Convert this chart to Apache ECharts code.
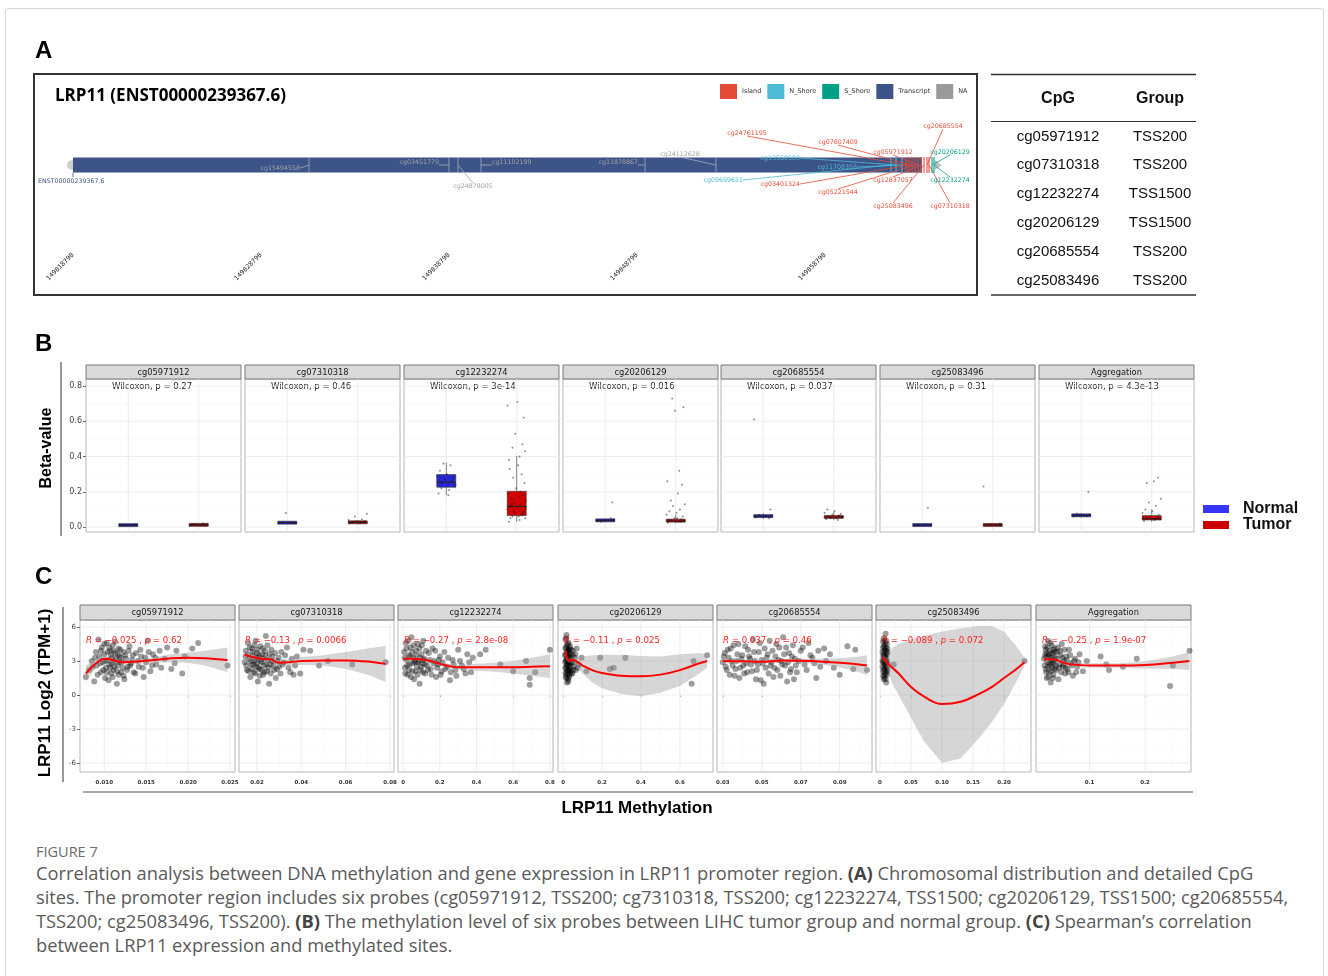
<!DOCTYPE html>
<html>
<head>
<meta charset="utf-8">
<title>LRP11 methylation</title>
<script src="https://cdn.jsdelivr.net/npm/echarts@6.0.0/dist/echarts.min.js"></script>
<style>
  html, body { margin: 0; padding: 0; background: #fff; }
  #frame { position: absolute; left: 5px; top: 8px; width: 1317px; height: 990px; border: 1px solid #d8d8d8; border-radius: 3px; }
  #chart { position: absolute; left: 0; top: 0; width: 1328px; height: 830px; }
  #caption { position: absolute; left: 36px; top: 843px; font-family: 'Open Sans', 'Noto Sans', sans-serif; color: #5a5a5a; white-space: nowrap; }
  #caption .fig { font-size: 14.5px; line-height: 18px; color: #6b6b6b; }
  #caption .txt { font-size: 18.3px; line-height: 24px; }
  #caption b { color: #444; }
</style>
</head>
<body>
<div id="frame"></div>
<div id="chart"></div>
<div id="caption">
  <div class="fig">FIGURE 7</div>
  <div class="txt">Correlation analysis between DNA methylation and gene expression in LRP11 promoter region. <b>(A)</b> Chromosomal distribution and detailed CpG<br>sites. The promoter region includes six probes (cg05971912, TSS200; cg7310318, TSS200; cg12232274, TSS1500; cg20206129, TSS1500; cg20685554,<br>TSS200; cg25083496, TSS200). <b>(B)</b> The methylation level of six probes between LIHC tumor group and normal group. <b>(C)</b> Spearman’s correlation<br>between LRP11 expression and methylated sites.</div>
</div>
<script>
// ---------- panel A : probe map ----------
const geneTitle = 'LRP11 (ENST00000239367.6)'
const transcriptId = 'ENST00000239367.6'
const transcript = [149818798, 149863958, 149864800] // start, end, TSS marker
const coordTicks = [149818798, 149828798, 149838798, 149848798, 149858798]
const regionNames = ['Island', 'N_Shore', 'S_Shore', 'Transcript', 'NA']
const probeNames = ['cg15494558', 'cg03451779', 'cg24878005', 'cg11102199', 'cg11878867', 'cg24112628',
  'cg09699651', 'cg13560583', 'cg11708358', 'cg24761195', 'cg03401324', 'cg07807409', 'cg05221544',
  'cg05971912', 'cg12837057', 'cg25083496', 'cg20685554', 'cg07310318', 'cg20206129', 'cg12232274']
const probePos = [149831351, 149838798, 149839277, 149840500, 149849224, 149852999,
  149862309, 149862574, 149862894, 149863107, 149863266, 149863426, 149863585,
  149863745, 149863904, 149864064, 149864223, 149864330, 149864489, 149864596]
const probeRegion = ['NA', 'NA', 'NA', 'NA', 'NA', 'NA',
  'N_Shore', 'N_Shore', 'N_Shore', 'Island', 'Island', 'Island', 'Island',
  'Island', 'Island', 'Island', 'Island', 'Island', 'S_Shore', 'S_Shore']
const tableCpG = ['cg05971912', 'cg07310318', 'cg12232274', 'cg20206129', 'cg20685554', 'cg25083496']
const tableGroup = ['TSS200', 'TSS200', 'TSS1500', 'TSS1500', 'TSS200', 'TSS200']

// ---------- panel B : beta values ----------
const facetNames = ['cg05971912', 'cg07310318', 'cg12232274', 'cg20206129', 'cg20685554', 'cg25083496', 'Aggregation']
const wilcoxP = ['0.27', '0.46', '3e-14', '0.016', '0.037', '0.31', '4.3e-13']
const betaTicks = [0, 0.2, 0.4, 0.6, 0.8]
// [min, q1, median, q3, max]
const normalBox = [
  [0.008, 0.010, 0.011, 0.012, 0.014],
  [0.020, 0.023, 0.025, 0.027, 0.030],
  [0.180, 0.226, 0.255, 0.298, 0.366],
  [0.028, 0.034, 0.038, 0.042, 0.050],
  [0.045, 0.056, 0.062, 0.068, 0.080],
  [0.008, 0.010, 0.011, 0.013, 0.016],
  [0.055, 0.062, 0.066, 0.071, 0.080]
]
const tumorBox = [
  [0.008, 0.011, 0.012, 0.014, 0.018],
  [0.018, 0.024, 0.027, 0.030, 0.038],
  [0.030, 0.065, 0.117, 0.203, 0.404],
  [0.020, 0.028, 0.034, 0.045, 0.070],
  [0.040, 0.050, 0.057, 0.065, 0.085],
  [0.008, 0.010, 0.012, 0.014, 0.018],
  [0.030, 0.040, 0.048, 0.065, 0.100]
]
const normalBeta = [
  [0.010, 0.011, 0.012, 0.009, 0.013, 0.011],
  [0.024, 0.026, 0.022, 0.028, 0.025, 0.080],
  [0.19, 0.21, 0.23, 0.25, 0.26, 0.27, 0.28, 0.29, 0.30, 0.32, 0.35, 0.36, 0.24, 0.22, 0.18],
  [0.035, 0.040, 0.045, 0.030, 0.050, 0.038, 0.140],
  [0.055, 0.060, 0.065, 0.070, 0.050, 0.060, 0.100, 0.610],
  [0.010, 0.012, 0.014, 0.011, 0.110],
  [0.060, 0.065, 0.070, 0.075, 0.062, 0.068, 0.200]
]
const tumorBeta = [
  [0.010, 0.012, 0.014, 0.015, 0.011, 0.013, 0.016, 0.009, 0.012, 0.018, 0.020, 0.014],
  [0.022, 0.025, 0.028, 0.030, 0.026, 0.033, 0.035, 0.040, 0.024, 0.027, 0.045, 0.060, 0.075, 0.029, 0.031],
  [0.03, 0.04, 0.05, 0.06, 0.07, 0.08, 0.09, 0.10, 0.11, 0.12, 0.13, 0.14, 0.15, 0.16, 0.17, 0.18, 0.19, 0.20,
   0.22, 0.25, 0.28, 0.30, 0.33, 0.35, 0.38, 0.40, 0.43, 0.45, 0.47, 0.53, 0.62, 0.69, 0.71, 0.05, 0.07, 0.09,
   0.11, 0.13, 0.06, 0.08],
  [0.025, 0.030, 0.035, 0.040, 0.045, 0.050, 0.060, 0.070, 0.080, 0.090, 0.100, 0.120, 0.130, 0.150, 0.190,
   0.240, 0.260, 0.320, 0.660, 0.680, 0.730, 0.030, 0.040, 0.050],
  [0.045, 0.050, 0.055, 0.060, 0.065, 0.070, 0.075, 0.080, 0.090, 0.100, 0.040, 0.050, 0.060],
  [0.010, 0.012, 0.014, 0.016, 0.011, 0.013, 0.020, 0.230],
  [0.035, 0.040, 0.045, 0.050, 0.055, 0.060, 0.070, 0.080, 0.090, 0.100, 0.120, 0.140, 0.160, 0.250, 0.260,
   0.280, 0.050, 0.045]
]

// ---------- panel C : expression vs methylation ----------
const corrR = ['−0.025', '−0.13', '−0.27', '−0.11', '0.037', '−0.089', '−0.25']
const corrP = ['0.62', '0.0066', '2.8e-08', '0.025', '0.46', '0.072', '1.9e-07']
const exprTicks = [-6, -3, 0, 3, 6]
const methTicks = [
  [0.010, 0.015, 0.020, 0.025],
  [0.02, 0.04, 0.06, 0.08],
  [0, 0.2, 0.4, 0.6, 0.8],
  [0, 0.2, 0.4, 0.6],
  [0.03, 0.05, 0.07, 0.09],
  [0, 0.05, 0.10, 0.15, 0.20],
  [0.1, 0.2]
]
const methTickLabels = [
  ['0.010', '0.015', '0.020', '0.025'],
  ['0.02', '0.04', '0.06', '0.08'],
  ['0', '0.2', '0.4', '0.6', '0.8'],
  ['0', '0.2', '0.4', '0.6'],
  ['0.03', '0.05', '0.07', '0.09'],
  ['0', '0.05', '0.10', '0.15', '0.20'],
  ['0.1', '0.2']
]
const methPoints = [
  [[0.0078, 1.6], [0.0082, 2.2], [0.0085, 3.0], [0.0088, 1.2], [0.0090, 3.8], [0.0091, 2.6], [0.0093, 4.9],
   [0.0094, 3.4], [0.0096, 2.0], [0.0097, 4.2], [0.0098, 2.9], [0.0100, 3.6], [0.0101, 1.5], [0.0102, 2.4],
   [0.0103, 4.6], [0.0104, 3.1], [0.0106, 2.7], [0.0107, 3.9], [0.0108, 1.9], [0.0109, 3.3], [0.0110, 4.4],
   [0.0111, 2.2], [0.0112, 3.0], [0.0113, 3.7], [0.0115, 1.0], [0.0116, 2.6], [0.0117, 4.1], [0.0118, 3.4],
   [0.0120, 2.0], [0.0121, 2.9], [0.0123, 3.8], [0.0124, 1.4], [0.0126, 3.2], [0.0128, 2.5], [0.0130, 4.3],
   [0.0132, 2.8], [0.0134, 3.5], [0.0137, 1.9], [0.0140, 3.0], [0.0143, 4.0], [0.0146, 2.4], [0.0149, 3.3],
   [0.0152, 4.8], [0.0155, 2.1], [0.0158, 3.6], [0.0162, 2.7], [0.0166, 3.9], [0.0172, 3.2], [0.0180, 2.3],
   [0.0186, 3.9], [0.0193, 1.9], [0.0196, 3.4], [0.0205, 4.1], [0.0212, 4.6], [0.0247, 2.6],
   [0.0086, 2.5], [0.0089, 3.3], [0.0092, 1.8], [0.0095, 2.8], [0.0096, 3.9], [0.0099, 2.2], [0.0100, 4.5],
   [0.0101, 3.0], [0.0103, 2.0], [0.0104, 3.8], [0.0105, 1.3], [0.0106, 4.2], [0.0107, 2.4], [0.0108, 3.5],
   [0.0109, 2.8], [0.0110, 1.6], [0.0111, 3.9], [0.0112, 2.5], [0.0113, 4.7], [0.0114, 3.2], [0.0115, 2.1],
   [0.0116, 3.6], [0.0117, 1.8], [0.0118, 2.9], [0.0119, 4.0], [0.0120, 3.3], [0.0122, 2.4], [0.0123, 1.7],
   [0.0125, 3.5], [0.0127, 2.2], [0.0129, 3.9], [0.0131, 2.6], [0.0133, 3.1], [0.0135, 2.0], [0.0138, 3.7],
   [0.0141, 2.5], [0.0144, 3.4], [0.0147, 1.6], [0.0150, 2.9], [0.0153, 3.8], [0.0157, 2.6], [0.0161, 3.3],
   [0.0168, 2.4], [0.0175, 4.2], [0.0184, 2.8]],
  [[0.0145, 2.9], [0.0150, 3.9], [0.0155, 2.2], [0.0160, 4.6], [0.0165, 3.2], [0.0170, 1.6], [0.0175, 2.7],
   [0.0178, 4.1], [0.0182, 3.5], [0.0186, 2.0], [0.0190, 3.0], [0.0194, 4.8], [0.0198, 2.5], [0.0200, 3.7],
   [0.0204, 1.2], [0.0208, 3.3], [0.0212, 2.3], [0.0215, 4.3], [0.0220, 2.9], [0.0224, 3.6], [0.0228, 1.8],
   [0.0232, 2.6], [0.0236, 3.9], [0.0240, 5.2], [0.0245, 2.1], [0.0250, 3.1], [0.0255, 1.0], [0.0260, 2.7],
   [0.0265, 4.0], [0.0270, 3.4], [0.0278, 2.2], [0.0285, 1.5], [0.0292, 3.0], [0.0300, 2.5], [0.0310, 3.8],
   [0.0320, 2.9], [0.0335, 4.2], [0.0350, 2.0], [0.0365, 1.8], [0.0380, 3.4], [0.0410, 4.0], [0.0440, 3.9],
   [0.0480, 2.6], [0.0520, 3.0], [0.0630, 2.7], [0.0780, 2.9],
   [0.0148, 3.4], [0.0152, 2.6], [0.0158, 3.6], [0.0162, 2.1], [0.0167, 4.2], [0.0172, 3.0], [0.0176, 2.3],
   [0.0180, 3.8], [0.0184, 2.7], [0.0188, 4.4], [0.0192, 1.9], [0.0196, 3.3], [0.0199, 2.8], [0.0202, 4.0],
   [0.0206, 2.4], [0.0210, 3.5], [0.0213, 1.7], [0.0217, 3.0], [0.0221, 2.2], [0.0226, 4.1], [0.0230, 3.2],
   [0.0234, 2.0], [0.0238, 3.5], [0.0242, 2.7], [0.0247, 4.4], [0.0252, 2.4], [0.0257, 3.6], [0.0262, 1.9],
   [0.0268, 3.0], [0.0274, 2.6], [0.0282, 3.7], [0.0290, 2.3], [0.0298, 3.3], [0.0306, 1.9], [0.0315, 2.7],
   [0.0327, 3.5], [0.0342, 2.4], [0.0357, 3.2], [0.0372, 2.6], [0.0395, 1.9]],
  [[0.005, 3.8], [0.010, 2.4], [0.015, 4.6], [0.020, 3.1], [0.025, 1.8], [0.030, 3.5], [0.035, 2.7],
   [0.040, 4.2], [0.045, 5.1], [0.050, 2.1], [0.055, 3.3], [0.060, 1.4], [0.065, 2.9], [0.070, 3.9],
   [0.075, 2.5], [0.080, 4.5], [0.085, 3.0], [0.090, 1.0], [0.095, 2.2], [0.100, 3.6], [0.105, 2.8],
   [0.110, 4.8], [0.115, 3.2], [0.120, 1.9], [0.130, 2.6], [0.140, 3.7], [0.150, 2.3], [0.160, 4.1],
   [0.170, 3.0], [0.180, 1.6], [0.190, 2.7], [0.200, 3.4], [0.210, 2.1], [0.225, 3.8], [0.240, 2.5],
   [0.255, 1.3], [0.270, 3.1], [0.285, 2.2], [0.300, 4.0], [0.320, 2.6], [0.340, 1.9], [0.360, 2.9],
   [0.380, 3.3], [0.420, 3.6], [0.450, 4.0], [0.530, 2.7], [0.600, 2.1], [0.670, 3.0], [0.690, 1.5],
   [0.690, 0.9], [0.720, 2.0], [0.800, 4.0],
   [0.008, 3.3], [0.012, 1.9], [0.018, 4.1], [0.022, 2.6], [0.028, 4.8], [0.033, 2.2], [0.038, 3.4],
   [0.043, 1.6], [0.048, 3.8], [0.052, 2.8], [0.058, 4.4], [0.062, 3.0], [0.068, 2.1], [0.072, 3.5],
   [0.078, 1.8], [0.082, 2.9], [0.088, 4.1], [0.092, 3.3], [0.098, 2.5], [0.102, 4.4], [0.108, 2.0],
   [0.112, 3.1], [0.118, 2.7], [0.125, 3.9], [0.135, 2.2], [0.145, 3.1], [0.155, 1.8], [0.165, 2.8],
   [0.175, 3.9], [0.185, 2.4], [0.195, 3.1], [0.205, 1.8], [0.215, 2.9], [0.230, 2.3], [0.245, 3.3],
   [0.260, 2.0], [0.275, 2.7], [0.290, 1.7], [0.310, 3.0], [0.330, 2.3], [0.350, 3.6], [0.370, 2.0]],
  [[0.010, 3.5], [0.012, 2.4], [0.013, 4.9], [0.014, 1.6], [0.015, 3.0], [0.016, 4.2], [0.017, 2.0],
   [0.018, 5.3], [0.019, 3.3], [0.020, 1.1], [0.021, 2.7], [0.022, 3.9], [0.023, 2.2], [0.024, 4.5],
   [0.025, 3.1], [0.026, 1.4], [0.027, 2.6], [0.028, 3.7], [0.029, 2.9], [0.030, 4.0], [0.031, 1.8],
   [0.032, 3.4], [0.033, 2.3], [0.035, 3.0], [0.036, 4.3], [0.038, 2.1], [0.040, 3.6], [0.042, 2.8],
   [0.045, 3.2], [0.048, 1.9], [0.050, 3.9], [0.055, 2.5], [0.060, 3.3], [0.065, 2.2], [0.070, 4.1],
   [0.080, 2.7], [0.095, 3.3], [0.120, 2.1], [0.190, 3.3], [0.240, 2.3], [0.260, 2.4], [0.320, 3.3],
   [0.660, 1.0], [0.670, 3.0], [0.740, 3.5],
   [0.011, 2.9], [0.012, 4.1], [0.013, 1.9], [0.014, 3.6], [0.015, 2.4], [0.016, 5.0], [0.017, 3.1],
   [0.018, 1.5], [0.019, 4.4], [0.020, 2.6], [0.021, 3.8], [0.022, 1.8], [0.023, 3.3], [0.024, 2.1],
   [0.025, 4.0], [0.026, 2.9], [0.027, 1.2], [0.028, 3.1], [0.029, 4.6], [0.030, 2.3], [0.031, 3.5],
   [0.032, 1.6], [0.033, 2.8], [0.034, 4.1], [0.035, 2.0], [0.037, 3.3], [0.039, 2.5], [0.041, 4.0],
   [0.043, 1.9], [0.046, 2.9], [0.049, 3.5], [0.052, 2.2], [0.058, 2.9], [0.063, 3.6], [0.075, 2.4]],
  [[0.030, 2.9], [0.031, 3.7], [0.032, 2.2], [0.033, 3.3], [0.034, 4.1], [0.035, 2.6], [0.036, 1.7],
   [0.037, 3.0], [0.038, 4.5], [0.039, 2.4], [0.040, 3.5], [0.041, 1.9], [0.042, 2.8], [0.043, 4.0],
   [0.044, 3.2], [0.045, 2.1], [0.046, 3.8], [0.047, 1.4], [0.048, 2.7], [0.049, 4.6], [0.050, 3.1],
   [0.051, 1.0], [0.052, 2.4], [0.053, 3.6], [0.054, 4.8], [0.055, 2.9], [0.056, 1.6], [0.057, 3.4],
   [0.058, 2.2], [0.059, 4.2], [0.060, 3.0], [0.061, 5.1], [0.062, 2.6], [0.063, 1.2], [0.064, 3.7],
   [0.065, 2.3], [0.066, 4.4], [0.067, 3.2], [0.068, 2.0], [0.070, 3.9], [0.072, 2.7], [0.074, 4.6],
   [0.076, 3.3], [0.078, 1.5], [0.080, 2.5], [0.082, 4.1], [0.085, 3.6], [0.087, 2.4], [0.090, 1.8],
   [0.094, 4.3], [0.097, 2.3], [0.098, 4.0], [0.104, 2.2],
   [0.0305, 3.4], [0.0315, 2.5], [0.0325, 4.0], [0.0335, 1.8], [0.0345, 3.0], [0.0355, 4.4], [0.0365, 2.3],
   [0.0375, 3.6], [0.0385, 1.5], [0.0395, 3.2], [0.0405, 2.6], [0.0415, 4.3], [0.0425, 2.0], [0.0435, 3.4],
   [0.0445, 2.7], [0.0455, 4.9], [0.0465, 3.0], [0.0475, 2.2], [0.0485, 3.8], [0.0495, 1.3], [0.0505, 2.8],
   [0.0515, 4.1], [0.0525, 3.3], [0.0535, 1.9], [0.0545, 2.6], [0.0555, 3.9], [0.0565, 2.4], [0.0575, 4.5],
   [0.0585, 3.1], [0.0595, 1.7], [0.0605, 2.7], [0.0615, 3.6], [0.0625, 4.2], [0.0635, 2.9], [0.0645, 2.0],
   [0.0655, 3.4], [0.0665, 1.4], [0.0675, 2.6], [0.0690, 3.0], [0.0710, 4.2], [0.0730, 2.2], [0.0750, 3.5],
   [0.0770, 2.8], [0.0790, 3.9], [0.0830, 3.0]],
  [[0.004, 3.0], [0.005, 4.2], [0.005, 2.1], [0.006, 3.6], [0.006, 1.4], [0.007, 4.8], [0.007, 2.7],
   [0.008, 3.3], [0.008, 1.8], [0.009, 5.4], [0.009, 2.4], [0.010, 3.9], [0.010, 1.1], [0.011, 3.0],
   [0.011, 4.5], [0.012, 2.2], [0.006, 5.0], [0.008, 4.0], [0.010, 2.8], [0.007, 1.6], [0.009, 3.5],
   [0.011, 2.5], [0.005, 3.4], [0.012, 3.8], [0.022, 2.7], [0.233, 3.0],
   [0.004, 2.5], [0.004, 3.8], [0.005, 2.9], [0.005, 4.7], [0.006, 2.3], [0.006, 3.1], [0.007, 3.9],
   [0.007, 2.0], [0.008, 2.6], [0.008, 4.5], [0.009, 1.4], [0.009, 3.0], [0.009, 4.2], [0.010, 2.2],
   [0.010, 3.3], [0.011, 1.8], [0.011, 3.6], [0.012, 2.8], [0.012, 4.1], [0.006, 4.3], [0.007, 3.4],
   [0.008, 2.9], [0.010, 4.8], [0.011, 2.0], [0.005, 1.7]],
  [[0.018, 3.2], [0.020, 4.3], [0.021, 2.3], [0.022, 3.7], [0.023, 1.5], [0.024, 2.9], [0.025, 4.8],
   [0.026, 3.4], [0.027, 2.0], [0.028, 3.9], [0.029, 2.6], [0.030, 1.1], [0.031, 3.1], [0.032, 4.4],
   [0.033, 2.4], [0.034, 3.6], [0.035, 1.8], [0.036, 2.8], [0.037, 4.1], [0.038, 3.3], [0.040, 2.2],
   [0.042, 3.8], [0.044, 1.4], [0.046, 2.7], [0.048, 3.5], [0.050, 4.5], [0.052, 2.5], [0.054, 3.0],
   [0.056, 1.9], [0.058, 3.4], [0.060, 2.3], [0.063, 4.0], [0.066, 2.8], [0.070, 1.7], [0.074, 3.2],
   [0.078, 2.5], [0.082, 3.6], [0.088, 2.1], [0.095, 3.0], [0.120, 3.4], [0.130, 2.7], [0.135, 2.2],
   [0.160, 2.5], [0.185, 3.2], [0.245, 0.8], [0.250, 2.6], [0.280, 3.9],
   [0.019, 2.6], [0.020, 3.5], [0.021, 4.0], [0.022, 2.0], [0.023, 3.4], [0.024, 4.2], [0.025, 2.5],
   [0.026, 1.6], [0.027, 3.6], [0.028, 2.8], [0.029, 4.6], [0.030, 3.3], [0.031, 2.1], [0.032, 3.7],
   [0.033, 2.9], [0.034, 1.5], [0.035, 4.0], [0.036, 3.1], [0.037, 2.3], [0.038, 3.8], [0.039, 2.6],
   [0.041, 3.2], [0.043, 4.2], [0.045, 2.4], [0.047, 3.9], [0.049, 2.0], [0.051, 3.3], [0.053, 2.7],
   [0.055, 4.0], [0.057, 2.4], [0.059, 3.1], [0.062, 2.0], [0.065, 3.5], [0.068, 2.6], [0.072, 3.0],
   [0.076, 2.0], [0.080, 2.9]]
]
// loess fit with confidence band
const fitX = [
  [0.0078, 0.0090, 0.0100, 0.0110, 0.0120, 0.0140, 0.0160, 0.0180, 0.0200, 0.0220, 0.0247],
  [0.0145, 0.018, 0.022, 0.026, 0.03, 0.035, 0.04, 0.05, 0.06, 0.07, 0.078],
  [0, 0.05, 0.1, 0.15, 0.2, 0.25, 0.3, 0.4, 0.5, 0.6, 0.7, 0.8],
  [0.012, 0.02, 0.03, 0.05, 0.1, 0.15, 0.2, 0.3, 0.4, 0.5, 0.6, 0.7, 0.74],
  [0.03, 0.04, 0.05, 0.06, 0.07, 0.08, 0.09, 0.1, 0.104],
  [0.004, 0.008, 0.012, 0.02, 0.03, 0.05, 0.07, 0.1, 0.13, 0.16, 0.18, 0.2, 0.22, 0.233],
  [0.018, 0.03, 0.04, 0.05, 0.06, 0.08, 0.1, 0.15, 0.2, 0.25, 0.28]
]
const fitY = [
  [1.9, 2.8, 3.2, 3.1, 2.9, 2.95, 3.1, 3.25, 3.3, 3.25, 3.1],
  [3.55, 3.35, 3.2, 3.15, 2.85, 2.9, 3.0, 3.05, 3.05, 2.95, 2.75],
  [3.2, 3.2, 3.15, 3.0, 2.75, 2.55, 2.45, 2.45, 2.45, 2.45, 2.5, 2.55],
  [3.9, 3.2, 3.05, 3.1, 2.6, 2.2, 1.95, 1.7, 1.65, 1.8, 2.2, 2.8, 3.0],
  [3.0, 2.97, 2.93, 3.05, 3.02, 2.95, 2.85, 2.7, 2.6],
  [3.3, 3.1, 2.8, 2.4, 1.9, 0.7, -0.1, -0.8, -0.6, 0.1, 0.7, 1.5, 2.3, 2.9],
  [3.15, 3.15, 3.1, 2.9, 2.75, 2.65, 2.6, 2.6, 2.65, 2.85, 3.0]
]
const fitLo = [
  [1.2, 2.4, 2.95, 2.9, 2.75, 2.75, 2.85, 2.9, 2.85, 2.6, 2.0],
  [3.0, 3.15, 3.05, 3.0, 2.65, 2.6, 2.65, 2.6, 2.3, 1.8, 1.15],
  [2.95, 3.05, 3.0, 2.85, 2.6, 2.35, 2.25, 2.15, 2.05, 1.9, 1.7, 1.5],
  [3.1, 2.95, 2.85, 2.8, 1.9, 1.1, 0.6, 0.1, -0.1, 0.2, 0.8, 1.9, 2.4],
  [2.75, 2.8, 2.78, 2.9, 2.85, 2.7, 2.45, 2.0, 1.75],
  [3.0, 2.85, 2.3, 1.0, 0.0, -2.0, -4.0, -6.0, -5.6, -3.8, -2.4, -0.8, 1.2, 2.6],
  [2.9, 3.0, 2.95, 2.75, 2.6, 2.5, 2.4, 2.4, 2.35, 2.3, 2.2]
]
const fitHi = [
  [2.6, 3.2, 3.45, 3.3, 3.05, 3.15, 3.35, 3.6, 3.75, 3.9, 4.2],
  [4.1, 3.55, 3.35, 3.3, 3.05, 3.2, 3.35, 3.5, 3.8, 4.1, 4.35],
  [3.45, 3.35, 3.3, 3.15, 2.9, 2.75, 2.65, 2.75, 2.85, 3.0, 3.3, 3.6],
  [4.4, 3.45, 3.25, 3.4, 3.4, 3.5, 3.55, 3.55, 3.45, 3.4, 3.6, 3.7, 3.6],
  [3.25, 3.15, 3.08, 3.2, 3.2, 3.2, 3.25, 3.4, 3.5],
  [3.6, 3.4, 3.3, 4.2, 4.5, 4.9, 5.2, 5.6, 5.9, 6.1, 6.1, 5.6, 4.3, 3.3],
  [3.4, 3.3, 3.25, 3.05, 2.9, 2.8, 2.8, 2.8, 2.95, 3.4, 3.8]
]

// ---------- layout & style ----------
const regionColor = { Island: '#E64B35', N_Shore: '#4DBBD5', S_Shore: '#00A087', Transcript: '#3C5488', NA: '#9a9a9a' }
// label anchor offset from probe point (px), text align, vertical align
const probeLabelLayout = [
  [-9, 3, 'right', 'middle'], [-10, 0, 'right', 'bottom'], [15, 18, 'center', 'top'], [11, 0, 'left', 'bottom'],
  [-7, 0, 'right', 'bottom'], [-36, -8, 'center', 'bottom'],
  [-148, 15, 'right', 'middle'], [-96, -7, 'right', 'middle'], [-45, 2, 'right', 'middle'],
  [-159, -29, 'center', 'bottom'], [-109, 19, 'right', 'middle'], [-74, -20, 'center', 'bottom'],
  [-77, 24, 'center', 'top'], [-25, -10, 'center', 'bottom'], [-28, 12, 'center', 'top'],
  [-31, 38, 'center', 'top'], [16, -36, 'center', 'bottom'], [21, 38, 'center', 'top'],
  [18, -10, 'center', 'bottom'], [16, 12, 'center', 'top']
]
const jitterDx = [-0.11, 0.04, 0.12, -0.06, 0.08, -0.02, 0.10, -0.13, 0.01, -0.09, 0.06, -0.04, 0.13,
  -0.07, 0.03, 0.09, -0.12, 0.05, -0.01, 0.11, -0.05, 0.07, -0.10, 0.02]
const A_RANGE = [149817043, 149866776]
const B_LEFT = [86, 245, 404, 563, 721, 880, 1039]
const C_LEFT = [80, 239, 398, 558, 717, 876, 1036]
const FACET_W = 155
const B_TOP = 379, B_H = 153, B_RANGE = [-0.028, 0.84]
const C_TOP = 620, C_H = 152, C_RANGE = [-6.79, 6.62]
const methRange = [[0.0071, 0.0256], [0.0119, 0.0818], [-0.028, 0.817], [-0.026, 0.77],
  [0.027, 0.1066], [-0.0065, 0.2435], [0.0036, 0.2827]]
const boxFill = { Normal: '#2626D0', Tumor: '#D20000' }
const GG = 'DejaVu Sans'
const SANS = 'Liberation Sans'

const grids = [], xAxes = [], yAxes = [], series = [], graphics = []

function txt(x, y, text, s, extra) {
  return Object.assign({ type: 'text', x, y, silent: true, style: Object.assign({
    text, fill: '#111', fontFamily: SANS, fontSize: 12,
    align: s.align || 'left', textAlign: s.align || 'left',
    verticalAlign: s.valign || 'middle', textVerticalAlign: s.valign || 'middle'
  }, s) }, extra || {})
}
function hline(x1, x2, y, color, w) {
  return { type: 'line', silent: true, shape: { x1, y1: y, x2, y2: y }, style: { stroke: color, lineWidth: w } }
}
function vline(x, y1, y2, color, w) {
  return { type: 'line', silent: true, shape: { x1: x, y1, x2: x, y2 }, style: { stroke: color, lineWidth: w } }
}

// panel grid lines drawn through the axis scales
function gridRender(hMajor, hMinor, vMajor, vMinor) {
  return function (params, api) {
    const cs = params.coordSys
    const kids = []
    const add = (vals, horiz, color, w) => vals.forEach(v => {
      const p = api.coord(horiz ? [cs.x, v] : [v, 0])
      kids.push({
        type: 'line',
        shape: horiz ? { x1: cs.x, y1: p[1], x2: cs.x + cs.width, y2: p[1] }
          : { x1: p[0], y1: cs.y, x2: p[0], y2: cs.y + cs.height },
        style: { stroke: color, lineWidth: w }
      })
    })
    add(hMinor, true, '#f4f4f4', 0.5)
    add(vMinor, false, '#f4f4f4', 0.5)
    add(hMajor, true, '#e9e9e9', 0.8)
    add(vMajor, false, '#e9e9e9', 0.8)
    return { type: 'group', children: kids }
  }
}
function minorOf(ticks, range) {
  const out = []
  const step = ticks.length > 1 ? ticks[1] - ticks[0] : 0.1
  if (ticks[0] - step / 2 >= range[0]) out.push(ticks[0] - step / 2)
  for (let i = 0; i < ticks.length - 1; i++) out.push((ticks[i] + ticks[i + 1]) / 2)
  if (ticks[ticks.length - 1] + step / 2 <= range[1]) out.push(ticks[ticks.length - 1] + step / 2)
  return out
}

// ================= panel A =================
grids.push({ left: 40, top: 78, width: 935, height: 174, show: false })
xAxes.push({
  type: 'value', gridIndex: 0, min: A_RANGE[0], max: A_RANGE[1],
  axisLine: { show: false }, splitLine: { show: false },
  axisTick: { show: true, customValues: coordTicks, length: 3, lineStyle: { color: '#333', width: 0.8 } },
  axisLabel: { customValues: coordTicks, rotate: 45, fontSize: 6.3, color: '#222', fontFamily: GG, margin: 2,
    formatter: v => String(v) }
})
yAxes.push({ type: 'value', gridIndex: 0, min: -1, max: 1, show: false })

series.push({
  name: 'Transcript', type: 'custom', xAxisIndex: 0, yAxisIndex: 0,
  itemStyle: { color: regionColor.Transcript },
  data: [[transcript[0], 0, transcript[1], transcript[2]]],
  encode: { x: [0, 2], y: 1 },
  renderItem: (params, api) => {
    const a = api.coord([api.value(0), 0])
    const b = api.coord([api.value(2), 0])
    const t = api.coord([api.value(3), 0])
    return { type: 'group', children: [
      { type: 'circle', shape: { cx: a[0] - 1, cy: a[1], r: 5 }, style: { fill: '#cfcfcf' } },
      { type: 'rect', shape: { x: a[0], y: a[1] - 7.5, width: b[0] - a[0], height: 15 }, style: { fill: regionColor.Transcript } },
      { type: 'polygon', shape: { points: [[t[0] - 3, t[1] - 5], [t[0] + 4, t[1]], [t[0] - 3, t[1] + 5]] }, style: { fill: '#bdbdbd' } },
      { type: 'line', shape: { x1: a[0], y1: a[1] + 7.5, x2: a[0], y2: a[1] + 12 }, style: { stroke: regionColor.Transcript, lineWidth: 0.8 } },
      { type: 'text', x: a[0] - 35, y: a[1] + 16, style: { text: transcriptId, fill: '#3C5488', fontSize: 6.3, fontFamily: GG,
        align: 'left', textAlign: 'left', verticalAlign: 'middle', textVerticalAlign: 'middle' } }
    ] }
  }
})

function probeRender(params, api) {
  const idx = api.value(2)
  const p = api.coord([api.value(0), 0])
  const [dx, dy, align, valign] = probeLabelLayout[idx]
  const isNA = probeRegion[idx] === 'NA'
  const col = isNA ? '#a8abb5' : regionColor[probeRegion[idx]]
  const ax = p[0] + dx, ay = p[1] + dy
  return { type: 'group', children: [
    { type: 'line', shape: { x1: p[0], y1: p[1] - 8, x2: p[0], y2: p[1] + 8 }, style: { stroke: col, lineWidth: isNA ? 0.8 : 1.1 } },
    { type: 'line', shape: { x1: p[0], y1: p[1], x2: ax, y2: ay }, style: { stroke: col, lineWidth: 0.8 } },
    { type: 'text', x: ax, y: ay, style: { text: probeNames[idx], fill: isNA ? '#a3a3a3' : col, fontSize: 6.3, fontFamily: GG,
      align, textAlign: align, verticalAlign: valign, textVerticalAlign: valign } }
  ] }
}
;['NA', 'N_Shore', 'Island', 'S_Shore'].forEach(reg => {
  const data = []
  probeNames.forEach((n, i) => { if (probeRegion[i] === reg) data.push([probePos[i], 0, i]) })
  series.push({
    name: reg, type: 'custom', xAxisIndex: 0, yAxisIndex: 0,
    itemStyle: { color: regionColor[reg] }, data, encode: { x: 0, y: 1 }, renderItem: probeRender
  })
})

graphics.push(
  txt(35, 51, 'A', { fontSize: 24, fontWeight: 'bold', fill: '#000' }),
  { type: 'rect', silent: true, shape: { x: 34, y: 74, width: 943, height: 221 }, style: { fill: 'none', stroke: '#333', lineWidth: 2 } },
  txt(55, 96, geneTitle, { fontSize: 17, fontWeight: 'bold', fontFamily: 'Open Sans', fill: '#000' })
)
// CpG table
graphics.push(hline(991, 1196, 74.5, '#333', 1.5), hline(991, 1196, 121.5, '#333', 1.2), hline(991, 1196, 295, '#333', 1.5))
graphics.push(txt(1058, 99, 'CpG', { fontSize: 16, fontWeight: 'bold', align: 'center' }))
graphics.push(txt(1160, 99, 'Group', { fontSize: 16, fontWeight: 'bold', align: 'center' }))
tableCpG.forEach((c, i) => {
  graphics.push(txt(1058, 136.5 + i * 28.8, c, { fontSize: 15, align: 'center' }))
  graphics.push(txt(1160, 136.5 + i * 28.8, tableGroup[i], { fontSize: 15, align: 'center' }))
})

// ================= panel B =================
facetNames.forEach((name, f) => {
  const gi = grids.length
  grids.push({ left: B_LEFT[f], top: B_TOP, width: FACET_W, height: B_H, show: true, borderColor: '#b5b5b5', borderWidth: 1 })
  xAxes.push({ type: 'value', gridIndex: gi, min: 0.4, max: 2.6, axisLine: { show: false }, axisTick: { show: false },
    axisLabel: { show: false }, splitLine: { show: false } })
  yAxes.push({ type: 'value', gridIndex: gi, min: B_RANGE[0], max: B_RANGE[1], axisLine: { show: false },
    splitLine: { show: false },
    axisTick: { show: f === 0, customValues: betaTicks, length: 3, lineStyle: { color: '#444', width: 0.8 } },
    axisLabel: { show: f === 0, customValues: betaTicks, fontSize: 8, color: '#444', fontFamily: GG, margin: 4,
      formatter: v => v.toFixed(1) } })
  series.push({
    type: 'custom', xAxisIndex: gi, yAxisIndex: gi, silent: true, z: 1, data: [[1, 0.4]], encode: { x: 0, y: 1 },
    renderItem: gridRender(betaTicks, minorOf(betaTicks, B_RANGE), [1, 2], [])
  })
  ;[['Normal', 1, normalBox[f], normalBeta[f]], ['Tumor', 2, tumorBox[f], tumorBeta[f]]].forEach(([grp, xc, bx, pts]) => {
    series.push({
      name: grp, type: 'custom', xAxisIndex: gi, yAxisIndex: gi, z: 2,
      itemStyle: { color: grp === 'Normal' ? '#3535FF' : '#CC0000' },
      data: [[xc].concat(bx)], encode: { x: 0, y: [1, 2, 3, 4, 5] },
      renderItem: (params, api) => {
        const x = api.value(0), hw = 0.135
        const pMin = api.coord([x, api.value(1)])
        const pQ1 = api.coord([x - hw, api.value(2)])
        const pMed = api.coord([x - hw, api.value(3)])
        const pQ3 = api.coord([x + hw, api.value(4)])
        const pMax = api.coord([x, api.value(5)])
        const h = Math.max(pQ1[1] - pQ3[1], 3)
        const top = (pQ1[1] + pQ3[1]) / 2 - h / 2
        return { type: 'group', children: [
          { type: 'line', shape: { x1: pMin[0], y1: pMin[1], x2: pMin[0], y2: pQ1[1] }, style: { stroke: '#333', lineWidth: 0.6 } },
          { type: 'line', shape: { x1: pMax[0], y1: pMax[1], x2: pMax[0], y2: pQ3[1] }, style: { stroke: '#333', lineWidth: 0.6 } },
          { type: 'rect', shape: { x: pQ1[0], y: top, width: pQ3[0] - pQ1[0], height: h }, style: { fill: boxFill[grp], stroke: '#333', lineWidth: 0.6 } },
          { type: 'line', shape: { x1: pQ1[0], y1: pMed[1], x2: pQ3[0], y2: pMed[1] }, style: { stroke: '#222', lineWidth: 1.1 } }
        ] }
      }
    })
    series.push({
      name: 'beta-' + grp, type: 'scatter', xAxisIndex: gi, yAxisIndex: gi, z: 3, silent: true,
      symbolSize: 2, itemStyle: { color: 'rgba(20,20,20,0.6)' },
      data: pts.map((v, k) => [xc + jitterDx[k % jitterDx.length], v])
    })
  })
  graphics.push({ type: 'rect', silent: true, shape: { x: B_LEFT[f], y: 365, width: FACET_W, height: 14 },
    style: { fill: '#D9D9D9', stroke: '#7a7a7a', lineWidth: 1 } })
  graphics.push(txt(B_LEFT[f] + FACET_W / 2, 372.5, name, { fontSize: 8.3, fontFamily: GG, align: 'center', fill: '#1a1a1a' }))
  graphics.push(txt(B_LEFT[f] + 26, 386.5, 'Wilcoxon, p = ' + wilcoxP[f], { fontSize: 8.5, fontFamily: GG, fill: '#1a1a1a' }))
})
graphics.push(txt(35, 344, 'B', { fontSize: 24, fontWeight: 'bold', fill: '#000' }))
graphics.push(vline(61, 362, 536, '#555', 1.2))
graphics.push(txt(47, 448, 'Beta-value', { fontSize: 16, fontWeight: 'bold', align: 'center', fill: '#000' }, { rotation: Math.PI / 2 }))

// ================= panel C =================
facetNames.forEach((name, f) => {
  const gi = grids.length
  const xr = methRange[f]
  grids.push({ left: C_LEFT[f], top: C_TOP, width: FACET_W, height: C_H, show: true, borderColor: '#b5b5b5', borderWidth: 1 })
  xAxes.push({ type: 'value', gridIndex: gi, min: xr[0], max: xr[1], axisLine: { show: false },
    splitLine: { show: false },
    axisTick: { show: true, customValues: methTicks[f], length: 2, lineStyle: { color: '#666', width: 0.6 } },
    axisLabel: { customValues: methTicks[f], fontSize: 5.5, fontWeight: 'bold', color: '#333', fontFamily: GG, margin: 8,
      formatter: v => {
        const k = methTicks[f].findIndex(t => Math.abs(t - v) < 1e-9)
        return k >= 0 ? methTickLabels[f][k] : ''
      } } })
  yAxes.push({ type: 'value', gridIndex: gi, min: C_RANGE[0], max: C_RANGE[1], axisLine: { show: false },
    splitLine: { show: false },
    axisTick: { show: f === 0, customValues: exprTicks, length: 3, lineStyle: { color: '#444', width: 0.8 } },
    axisLabel: { show: f === 0, customValues: exprTicks, fontSize: 7, color: '#444', fontFamily: GG, margin: 4,
      formatter: v => (v < 0 ? '-' + Math.abs(v) : String(v)) } })
  series.push({
    type: 'custom', xAxisIndex: gi, yAxisIndex: gi, silent: true, z: 1, data: [[xr[0], 0]], encode: { x: 0, y: 1 },
    renderItem: gridRender(exprTicks, minorOf(exprTicks, C_RANGE), methTicks[f], minorOf(methTicks[f], xr))
  })
  series.push({
    name: 'expr', type: 'scatter', xAxisIndex: gi, yAxisIndex: gi, z: 2, silent: true,
    symbolSize: 6, itemStyle: { color: 'rgba(0,0,0,0.48)' }, data: methPoints[f]
  })
  series.push({
    name: 'ci', type: 'custom', xAxisIndex: gi, yAxisIndex: gi, z: 3, silent: true,
    data: [[fitX[f][0], fitY[f][0]]], encode: { x: 0, y: 1 },
    renderItem: (params, api) => {
      const up = fitX[f].map((x, k) => api.coord([x, fitHi[f][k]]))
      const dn = fitX[f].map((x, k) => api.coord([x, fitLo[f][k]])).reverse()
      return { type: 'polygon', shape: { points: up.concat(dn) }, style: { fill: 'rgba(153,153,153,0.4)' } }
    }
  })
  series.push({
    name: 'fit', type: 'line', xAxisIndex: gi, yAxisIndex: gi, z: 4, silent: true,
    smooth: 0.4, showSymbol: false, lineStyle: { color: '#FF0000', width: 2 },
    data: fitX[f].map((x, k) => [x, fitY[f][k]])
  })
  graphics.push({ type: 'rect', silent: true, shape: { x: C_LEFT[f], y: 605, width: FACET_W, height: 15 },
    style: { fill: '#D9D9D9', stroke: '#7a7a7a', lineWidth: 1 } })
  graphics.push(txt(C_LEFT[f] + FACET_W / 2, 613, name, { fontSize: 8.3, fontFamily: GG, align: 'center', fill: '#1a1a1a' }))
  graphics.push({ type: 'text', x: C_LEFT[f] + 6, y: 641, silent: true, z: 100, style: {
    text: '{i|R} = ' + corrR[f] + ' , {i|p} = ' + corrP[f],
    fill: '#FF2020', fontSize: 8.6, fontFamily: GG, align: 'left', textAlign: 'left',
    verticalAlign: 'middle', textVerticalAlign: 'middle',
    rich: { i: { fontStyle: 'italic', fill: '#FF2020', fontSize: 8.6, fontFamily: GG } }
  } })
})
graphics.push(txt(35, 577, 'C', { fontSize: 24, fontWeight: 'bold', fill: '#000' }))
graphics.push(vline(63, 607, 782, '#555', 1.2))
graphics.push(hline(83, 1193, 792, '#555', 1.2))
graphics.push(txt(45, 693, 'LRP11 Log2 (TPM+1)', { fontSize: 17, fontWeight: 'bold', align: 'center', fill: '#000' }, { rotation: Math.PI / 2 }))
graphics.push(txt(637, 808, 'LRP11 Methylation', { fontSize: 17, fontWeight: 'bold', align: 'center', fill: '#000' }))

const chart = echarts.init(document.getElementById('chart'))
chart.setOption({
  animation: false,
  grid: grids,
  xAxis: xAxes,
  yAxis: yAxes,
  legend: [
    {
      data: regionNames, left: 720, top: 84, icon: 'rect', itemWidth: 17, itemHeight: 15, itemGap: 6, padding: 0,
      selectedMode: false, textStyle: { fontSize: 6.5, fontFamily: GG, color: '#333' }
    },
    {
      data: ['Normal', 'Tumor'], left: 1203, top: 501, orient: 'vertical', icon: 'rect', itemWidth: 26, itemHeight: 8,
      itemGap: 0, padding: 0, selectedMode: false,
      textStyle: { fontSize: 16, fontWeight: 'bold', fontFamily: SANS, color: '#111', lineHeight: 14, padding: [0, 0, 0, 9] }
    }
  ],
  series: series,
  graphic: { elements: graphics }
})
</script>
</body>
</html>
